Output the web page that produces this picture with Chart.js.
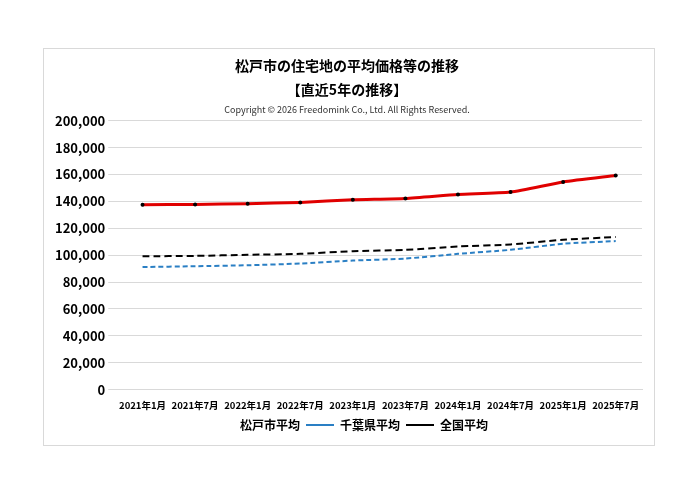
<!DOCTYPE html>
<html><head><meta charset="utf-8">
<script src="https://cdn.jsdelivr.net/npm/chart.js@4"></script>
<style>
body{margin:0;background:#fff;}
#box{position:absolute;left:43px;top:48px;width:610px;height:396px;border:1px solid #d9d9d9;background:#fff;}
</style></head><body>
<div id="box"><canvas id="myChart" width="610" height="396"></canvas></div>
<script>
var labels = ["2021年1月","2021年7月","2022年1月","2022年7月","2023年1月","2023年7月","2024年1月","2024年7月","2025年1月","2025年7月"];
var matsudo = [137500,137800,138300,139300,141200,142200,145200,147000,154500,159300];
var chiba = [91200,91800,92500,93800,96000,97500,101000,104000,108500,110500];
var zenkoku = [99200,99500,100300,101000,103000,104000,106500,108000,111500,113500];

var font = "'Noto Sans CJK JP', 'Noto Sans', sans-serif";
var ctx = document.getElementById("myChart").getContext("2d");
new Chart(ctx, {
  type: "line",
  data: {
    labels: labels,
    datasets: [
      { label: "松戸市平均", data: matsudo, borderColor: "#e00000", borderWidth: 3,
        pointRadius: 2, pointBorderWidth: 0, pointBackgroundColor: "#000", tension: 0.2 },
      { label: "千葉県平均", data: chiba, borderColor: "#2a7fc4", borderWidth: 2,
        borderDash: [5, 3], pointRadius: 0, tension: 0.2 },
      { label: "全国平均", data: zenkoku, borderColor: "#000", borderWidth: 2,
        borderDash: [7, 4], pointRadius: 0, tension: 0.2 }
    ]
  },
  options: {
    responsive: false,
    animation: false,
    layout: { padding: { left: 8, right: 12, top: 2, bottom: 4 } },
    plugins: {
      title: { display: true, text: ["松戸市の住宅地の平均価格等の推移", "【直近5年の推移】"],
        color: "#000", font: { family: font, size: 14, weight: "bold", lineHeight: 1.75 }, padding: { top: 2, bottom: 0 } },
      subtitle: { display: true, text: "Copyright © 2026 Freedomink Co., Ltd. All Rights Reserved.",
        color: "#333", font: { family: font, size: 9 }, padding: { top: 2, bottom: 6 } },
      legend: { position: "bottom",
        labels: { color: "#000", usePointStyle: true, pointStyle: "line", pointStyleWidth: 28,
          font: { family: font, size: 12, weight: "bold" }, padding: 6 } }
    },
    scales: {
      y: { min: 0, max: 200000,
        ticks: { stepSize: 20000, color: "#000", font: { family: font, size: 13, weight: "bold" },
          callback: function (v) { return v.toLocaleString("en-US"); } },
        grid: { color: "#d9d9d9" }, border: { display: false } },
      x: { offset: true,
        ticks: { color: "#000", maxRotation: 0, autoSkip: false, padding: 2, font: { family: font, size: 9.5, weight: "bold" } },
        grid: { display: false }, border: { color: "#d9d9d9" } }
    }
  }
});
</script></body></html>
